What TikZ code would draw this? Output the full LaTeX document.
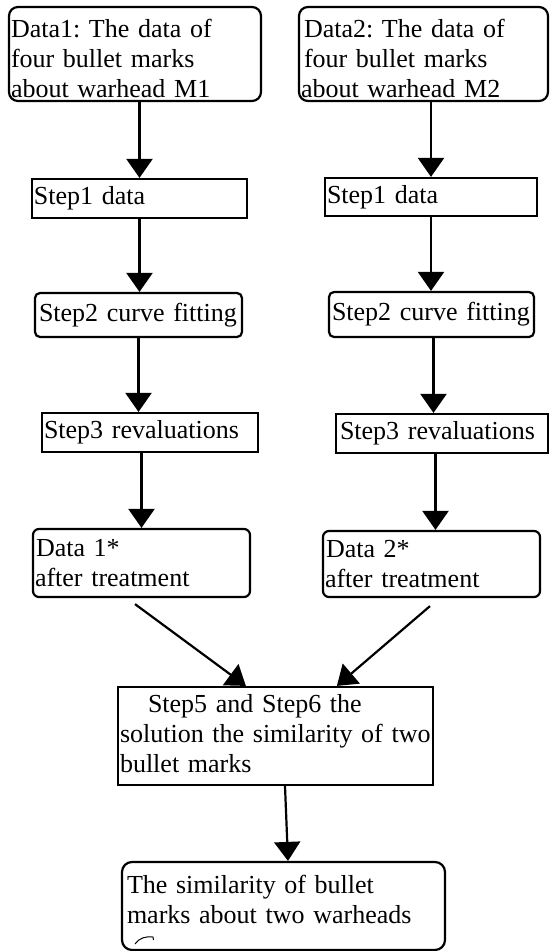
\documentclass[tikz,border=0pt]{standalone}
\usepackage{fontspec}
\setmainfont{Liberation Serif}
\usetikzlibrary{arrows.meta}
\begin{document}
\begin{tikzpicture}[x=1pt,y=-1pt,
  bx/.style={draw, line width=2.2pt, inner xsep=2pt, inner ysep=0pt, align=left,
             font=\fontsize{26}{30}\selectfont\frenchspacing},
  rbx/.style={bx, rounded corners=#1},
  arr/.style={line width=2.2pt, -{Triangle[width=26pt 0, length=19pt 0]}}]
\useasboundingbox (0,0) rectangle (550,951);
\fill[white] (0,0) rectangle (550,951);

% top data boxes
\node[rbx=9pt, minimum width=252pt, minimum height=94pt, text width=248pt] (d1) at (135,54)
  {\rule{0pt}{28pt}\mbox{Data1: The data of}\\\mbox{four bullet marks}\\\mbox{about warhead M1}};
\node[rbx=9pt, minimum width=249pt, minimum height=94pt, text width=245pt] (d2) at (423.5,54)
  {\rule{0pt}{28pt}\hspace*{3pt}\mbox{Data2: The data of}\\\hspace*{3pt}\mbox{four bullet marks}\\\mbox{about warhead M2}};

% step 1
\node[bx, minimum width=215pt, minimum height=39pt, text width=211pt] (s1l) at (139.5,198.5) {\mbox{Step1 data}};
\node[bx, minimum width=212pt, minimum height=38pt, text width=208pt] (s1r) at (431,197) {\mbox{Step1 data}};

% step 2
\node[rbx=5pt, minimum width=207pt, minimum height=44pt, text width=203pt] (s2l) at (138.5,315) {\hspace*{2pt}\mbox{Step2 curve fitting}};
\node[rbx=5pt, minimum width=205pt, minimum height=45pt, text width=201pt] (s2r) at (431.5,314.5) {\hspace*{1pt}\mbox{Step2 curve fitting}};

% step 3
\node[bx, minimum width=216pt, minimum height=39pt, text width=212pt] (s3l) at (150,432.5) {\mbox{Step3 revaluations}};
\node[bx, minimum width=212pt, minimum height=39pt, text width=208pt] (s3r) at (442,433.5) {\hspace*{2pt}\mbox{Step3 revaluations}};

% data after treatment
\node[rbx=6pt, minimum width=217pt, minimum height=68pt, text width=213pt] (d1s) at (141.5,563)
  {\hspace*{1pt}\mbox{Data 1*}\\\mbox{after treatment}};
\node[rbx=6pt, minimum width=217pt, minimum height=66pt, text width=213pt] (d2s) at (431.5,564)
  {\hspace*{1pt}\mbox{Data 2*}\\\mbox{after treatment}};

% step 5 and 6
\node[bx, minimum width=315pt, minimum height=98pt, text width=311pt] (s5) at (275.5,736)
  {\hspace*{28pt}\mbox{Step5 and Step6 the}\\\mbox{solution the similarity of two}\\\mbox{bullet marks}\rule[-6pt]{0pt}{6pt}};

% final
\node[rbx=10pt, minimum width=323pt, minimum height=88pt, text width=319pt] (fin) at (283.5,906)
  {\hspace*{3pt}\mbox{The similarity of bullet}\\\hspace*{3pt}\mbox{marks about two warheads}\rule[-14pt]{0pt}{14pt}};
\draw[line width=1pt] (135,944) .. controls (139,938) and (146,936) .. (153,937) -- (153.5,940);

% connectors left
\draw[arr] (d1.south -| s1l.north) -- (s1l.north);
\draw[arr] (s1l.south) -- (s1l.south |- s2l.north);
\draw[arr] (s2l.south) -- (s2l.south |- s3l.north);
\draw[arr] (s3l.south -| d1s.north) -- (d1s.north);

% connectors right
\draw[arr] (d2.south -| s1r.north) -- (s1r.north);
\draw[arr] (s1r.south) -- (s1r.south |- s2r.north);
\draw[arr] ([xshift=2pt]s2r.south) -- ([xshift=2pt]s2r.south |- s3r.north);
\draw[arr] ([xshift=4pt]d2s.north |- s3r.south) -- ([xshift=4pt]d2s.north);

% converging connectors
\draw[arr] ([xshift=-6.5pt,yshift=-6pt]d1s.south) -- ([xshift=129pt]s5.north west);
\draw[arr] ([xshift=-1.5pt,yshift=-8pt]d2s.south) -- ([xshift=220pt]s5.north west);

% to final
\draw[arr] ([xshift=9.5pt]s5.south) -- ([xshift=4.5pt]fin.north);
\end{tikzpicture}
\end{document}
